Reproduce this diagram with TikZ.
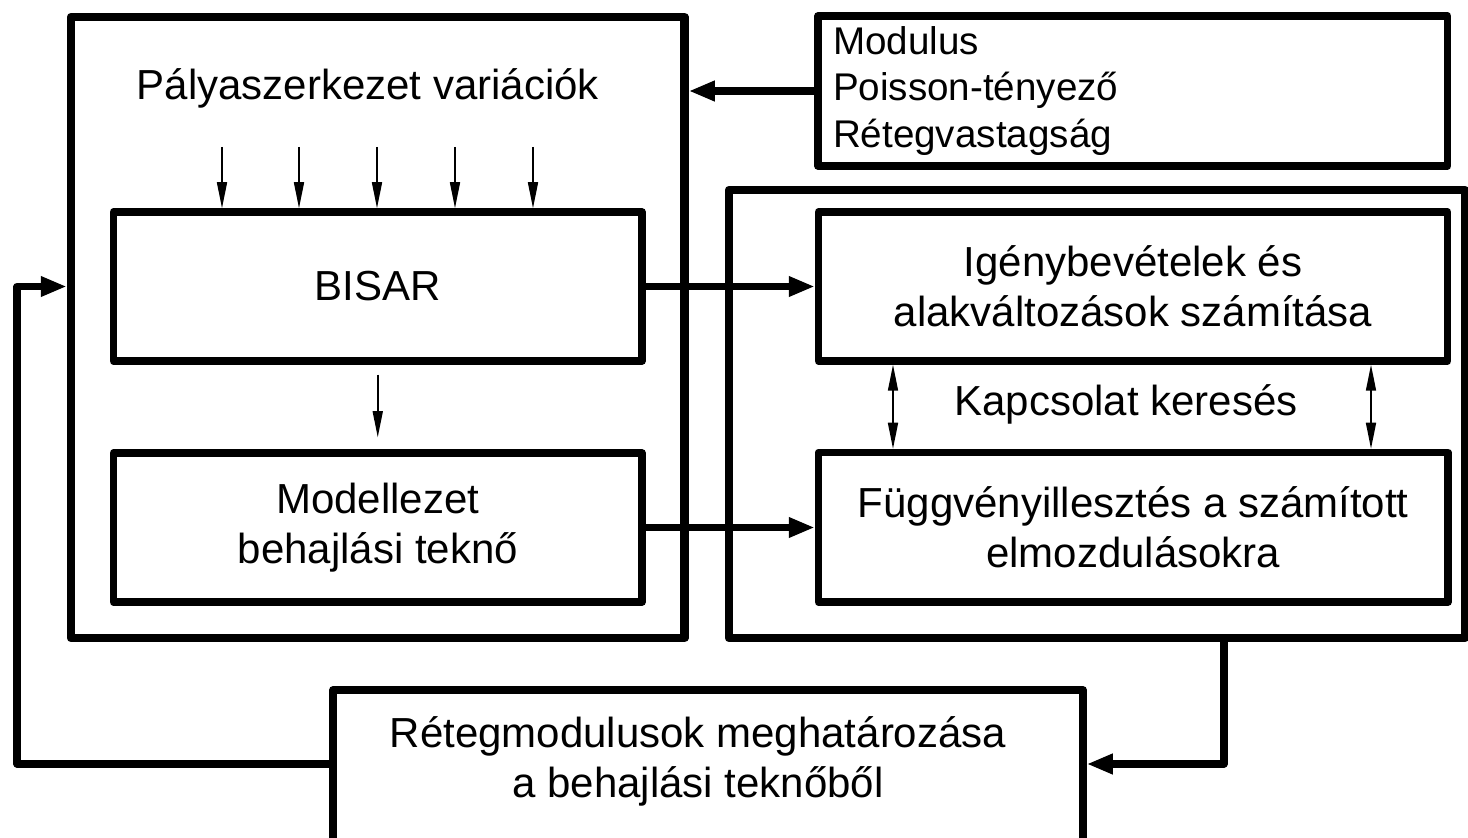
\documentclass[tikz,border=0pt]{standalone}
\usepackage{fontspec}
\setmainfont{Liberation Sans}
\usetikzlibrary{arrows.meta}
\begin{document}
\begin{tikzpicture}[x=0.5pt,y=-0.5pt,
  bigbox/.style={draw, line width=4.25pt, inner sep=0pt, line join=round},
  box/.style={draw, line width=3.75pt, inner sep=0pt, line join=round, align=center,
    font=\fontsize{21}{25}\selectfont},
  txt/.style={inner sep=0pt, align=center, font=\fontsize{21}{25}\selectfont},
  thickarrow/.style={line width=3.6pt, line join=round, -{Triangle[length=13pt,width=9.5pt]}},
  thinarrow/.style={line width=0.8pt, -{Triangle[length=13pt,width=5pt]}},
  dblarrow/.style={line width=0.8pt, {Triangle[length=13pt,width=5pt]}-{Triangle[length=13pt,width=5pt]}}
]
\useasboundingbox (0,0) rectangle (1468,838);

% boxes
\node[bigbox, minimum width=306.75pt, minimum height=310.5pt] (outer) at (377.75,327.5) {};
\node[bigbox, minimum width=368pt, minimum height=224pt] (right) at (1097,414) {};
\node[box, minimum width=314.75pt, minimum height=75pt, text width=299.75pt, align=left,
  font=\fontsize{19.3}{23.25}\selectfont] (params) at (1132.75,91)
  {Modulus\\Poisson-tényező\\Rétegvastagság};
\node[box, minimum width=264.25pt, minimum height=74.5pt] (bisar) at (377.75,286.5) {BISAR};
\node[box, minimum width=264.25pt, minimum height=74.5pt] (model) at (377.75,527.5) {Modellezet\\behajlási teknő};
\node[box, minimum width=314.5pt, minimum height=74.5pt] (igeny) at (1133,286.5) {Igénybevételek és\\alakváltozások számítása};
\node[box, minimum width=314.75pt, minimum height=74.75pt] (fugg) at (1133.25,527.25) {Függvényillesztés a számított\\elmozdulásokra};
\node[box, minimum width=375pt, minimum height=80pt] (bottom) at (708,770) {};

% free texts
\node[txt] (ptitle) at (368,88) {Pályaszerkezet variációk};
\node[txt] (kapcs) at (1126,404) {Kapcsolat keresés};
\node[txt] (btext) at (698,761) {Rétegmodulusok meghatározása\\a behajlási teknőből};

% coordinates
\coordinate (t1) at (222,147);
\coordinate (t2) at (299,147);
\coordinate (t3) at (377,147);
\coordinate (t4) at (455,147);
\coordinate (t5) at (533,147);
\coordinate (d1) at (893,400);
\coordinate (d2) at (1371,400);
\coordinate (fbR) at (1224,764);
\coordinate (fbL) at (17,764);

% thin arrows
\foreach \t in {t1,t2,t3,t4,t5}
  \draw[thinarrow] (\t) -- (\t |- bisar.north);
\draw[thinarrow, shorten <=5pt, shorten >=6pt] (bisar.south) -- (model.north);
\draw[dblarrow] (igeny.south -| d1) -- (fugg.north -| d1);
\draw[dblarrow] (igeny.south -| d2) -- (fugg.north -| d2);

% thick arrows
\draw[thickarrow] (params.west) -- (params.west -| outer.east);
\draw[thickarrow] (bisar.east) -- (igeny.west);
\draw[thickarrow] (model.east) -- (model.east -| fugg.west);
\draw[thickarrow] (right.south -| fbR) -- (fbR) -- (bottom.east |- fbR);
\draw[thickarrow] (bottom.west |- fbL) -- (fbL) |- (outer.west |- bisar.east);
\end{tikzpicture}
\end{document}
